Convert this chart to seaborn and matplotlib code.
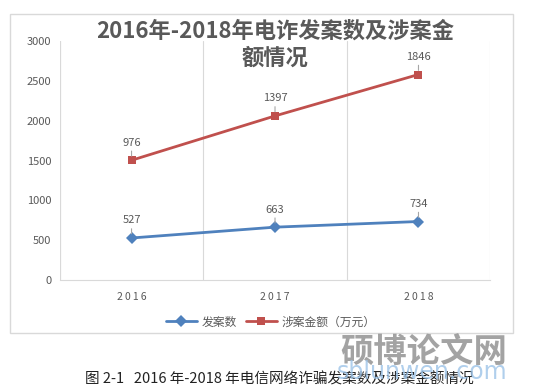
import matplotlib
matplotlib.use('Agg')
import matplotlib.pyplot as plt
import seaborn as sns
import pandas as pd
from matplotlib.patches import Rectangle

years = ['2016', '2017', '2018']
cases = [527, 663, 734]            # 发案数
amount = [976, 1397, 1846]         # 涉案金额（万元）, drawn stacked on top of cases
series_names = ['发案数', '涉案金额（万元）']
colors = ['#4F81BD', '#C0504D']

sns.set_style('white')
plt.rcParams['font.family'] = ['Noto Sans CJK SC', 'DejaVu Sans']

stacked = [c + a for c, a in zip(cases, amount)]
df = pd.DataFrame({
    'x': list(range(len(years))) * 2,
    'value': cases + stacked,
    'label': cases + amount,
    'series': [series_names[0]] * 3 + [series_names[1]] * 3,
})

fig = plt.figure(figsize=(5.34, 3.91), dpi=100)
ax = fig.add_axes([0.112, 0.284, 0.806, 0.611])

# outer chart frame
fig.patches.append(Rectangle((10 / 534, 1 - 333 / 391), 503 / 534, 319 / 391,
                             transform=fig.transFigure, fill=False,
                             edgecolor='#d9d9d9', linewidth=1))

sns.lineplot(data=df, x='x', y='value', hue='series', style='series',
             palette=colors, markers=['D', 's'], dashes=False,
             markersize=6, linewidth=2, markeredgewidth=0, ax=ax, legend=True)

for _, r in df.iterrows():
    ax.annotate(str(r['label']), xy=(r['x'], r['value']), xytext=(0, 9),
                textcoords='offset points', ha='center', va='bottom',
                fontsize=8, color='#595959',
                arrowprops=dict(arrowstyle='-', color='#a6a6a6', lw=0.8,
                                shrinkA=0, shrinkB=3))

ax.set_xlim(-0.5, 2.5)
ax.set_ylim(0, 3000)
ax.set_yticks(range(0, 3001, 500))
ax.set_xticks(range(len(years)))
ax.set_xticklabels(['\u2009'.join(y) for y in years])
ax.set_xticks([-0.5, 0.5, 1.5, 2.5], minor=True)
ax.grid(True, which='minor', axis='x', color='#d9d9d9', linewidth=0.8)
ax.grid(False, which='major')
ax.set_xlabel('')
ax.set_ylabel('')
for s in ['top', 'right', 'left']:
    ax.spines[s].set_visible(False)
ax.spines['bottom'].set_color('#d9d9d9')
ax.tick_params(axis='y', which='major', length=4, color='#d9d9d9', labelsize=8,
               labelcolor='#595959', pad=2)
ax.tick_params(axis='x', which='both', length=0, labelsize=7.5, labelcolor='#595959', pad=9)
ax.axvline(-0.5, color='#d9d9d9', linewidth=0.8)

leg = ax.legend(loc='center', bbox_to_anchor=(0.49, -0.176), ncol=2, frameon=False,
                fontsize=8.5, handlelength=2.6, columnspacing=0.8, handletextpad=0.4)
for t in leg.get_texts():
    t.set_color('#595959')

# title, two lines like the original
fig.text(0.515, 1 - 31 / 391, '2016年-2018年电诈发案数及涉案金', ha='center', va='center',
         fontsize=16, fontweight='bold', color='#595959')
fig.text(0.515, 1 - 58 / 391, '额情况', ha='center', va='center',
         fontsize=16, fontweight='bold', color='#595959')

fig.text(0.523, 1 - 379 / 391, '图 2-1   2016 年-2018 年电信网络诈骗发案数及涉案金额情况',
         ha='center', va='center', fontsize=10.5, color='#222222')

# watermark
fig.text(0.793, 1 - 352 / 391, '硕博论文网', ha='center', va='center', fontsize=24,
         fontweight='bold', color='#8c8c8c', alpha=0.8)
fig.text(0.79, 1 - 372 / 391, 'sblunwen.com', ha='center', va='center', fontsize=17,
         color='#9cc3e8', alpha=0.8, family='DejaVu Sans')

fig.savefig('out.png', dpi=100)
